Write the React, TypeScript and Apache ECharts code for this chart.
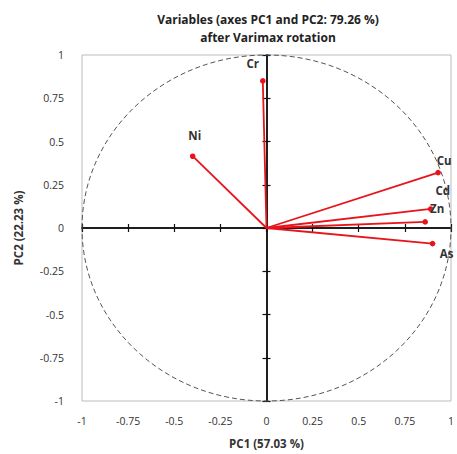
import React, { useEffect, useRef } from "react";
import * as echarts from "echarts";

const variables = ["Cr", "Ni", "Cu", "Cd", "Zn", "As"];
const pc1 = [-0.02, -0.4, 0.93, 0.89, 0.86, 0.9];
const pc2 = [0.85, 0.415, 0.32, 0.11, 0.035, -0.09];
const axisTicks = [-1, -0.75, -0.5, -0.25, 0, 0.25, 0.5, 0.75, 1];
// label placement (pixel offsets from vector tips) – styling only
const labelDx = [-10, 2, 6, 12, 12, 14];
const labelDy = [-17, -21, -12, -18, -13, 10];

export default function App() {
  const ref = useRef<HTMLDivElement>(null);
  useEffect(() => {
    if (!ref.current) return;
    const chart = echarts.init(ref.current, null, { renderer: "svg" });
    const fontFamily = "'Open Sans', 'DejaVu Sans', sans-serif";
    const vecData = variables.map((v, i) => [pc1[i], pc2[i], i]);
    const fmt = (v: number) => String(v);
    const centerAxis = (inside: boolean) => ({
      type: "value", min: -1, max: 1, interval: 0.25,
      axisLine: { show: true, onZero: true, lineStyle: { color: "#111", width: 1.5 } },
      axisTick: { show: true, length: 4, inside, lineStyle: { color: "#111", width: 1.2 } },
      axisLabel: { show: false }, splitLine: { show: false },
    });
    chart.setOption({
      animation: false,
      title: {
        text: "Variables (axes PC1 and PC2: 79.26 %)\nafter Varimax rotation",
        left: 263,
        top: 5,
        textAlign: "center",
        textStyle: { fontSize: 12, fontWeight: "bold", color: "#222", fontFamily, lineHeight: 18 },
      },
      grid: { left: 82, right: 3, top: 55, bottom: 52, show: true, borderColor: "#bbb", borderWidth: 1 },
      xAxis: [
        {
          type: "value", min: -1, max: 1, interval: 0.25, position: "bottom",
          axisLine: { show: false, onZero: false }, axisTick: { show: false }, splitLine: { show: false },
          axisLabel: { fontSize: 10.5, color: "#333", fontFamily, margin: 14, formatter: fmt },
          name: "PC1 (57.03 %)", nameLocation: "middle", nameGap: 36,
          nameTextStyle: { fontSize: 11.5, fontWeight: "bold", color: "#333", fontFamily },
        },
        centerAxis(false),
        centerAxis(true),
      ],
      yAxis: [
        {
          type: "value", min: -1, max: 1, interval: 0.25, position: "left",
          axisLine: { show: false, onZero: false }, axisTick: { show: false }, splitLine: { show: false },
          axisLabel: { fontSize: 10.5, color: "#333", fontFamily, margin: 18, formatter: fmt },
          name: "PC2 (22.23 %)", nameLocation: "middle", nameGap: 58, nameRotate: 90,
          nameTextStyle: { fontSize: 11.5, fontWeight: "bold", color: "#333", fontFamily },
        },
        centerAxis(false),
        centerAxis(true),
      ],
      series: [
        {
          type: "custom",
          xAxisIndex: 0,
          yAxisIndex: 0,
          data: [[0, 0]],
          silent: true,
          z: 1,
          renderItem: (params: any, api: any) => {
            const c = api.coord([0, 0]);
            const r = api.coord([1, 1]);
            return {
              type: "ellipse",
              shape: { cx: c[0], cy: c[1], rx: Math.abs(r[0] - c[0]), ry: Math.abs(r[1] - c[1]) },
              style: { fill: "none", stroke: "#555", lineWidth: 1, lineDash: [5, 3] },
            };
          },
        },
        {
          type: "custom",
          xAxisIndex: 0,
          yAxisIndex: 0,
          data: vecData,
          z: 5,
          renderItem: (params: any, api: any) => {
            const i = api.value(2);
            const o = api.coord([0, 0]);
            const p = api.coord([api.value(0), api.value(1)]);
            return {
              type: "group",
              children: [
                {
                  type: "line",
                  shape: { x1: o[0], y1: o[1], x2: p[0], y2: p[1] },
                  style: { stroke: "#e8141b", lineWidth: 1.8 },
                },
                {
                  type: "circle",
                  shape: { cx: p[0], cy: p[1], r: 2.8 },
                  style: { fill: "#e8141b" },
                },
                {
                  type: "text",
                  x: p[0] + labelDx[i],
                  y: p[1] + labelDy[i],
                  style: {
                    text: variables[i],
                    fill: "#333",
                    font: `bold 11.5px ${fontFamily}`,
                    align: "center",
                    verticalAlign: "middle",
                  },
                },
              ],
            };
          },
        },
      ],
    });
    return () => chart.dispose();
  }, []);
  return <div ref={ref} style={{ width: 457, height: 454, position: "absolute", left: 0, top: 0 }} />;
}
